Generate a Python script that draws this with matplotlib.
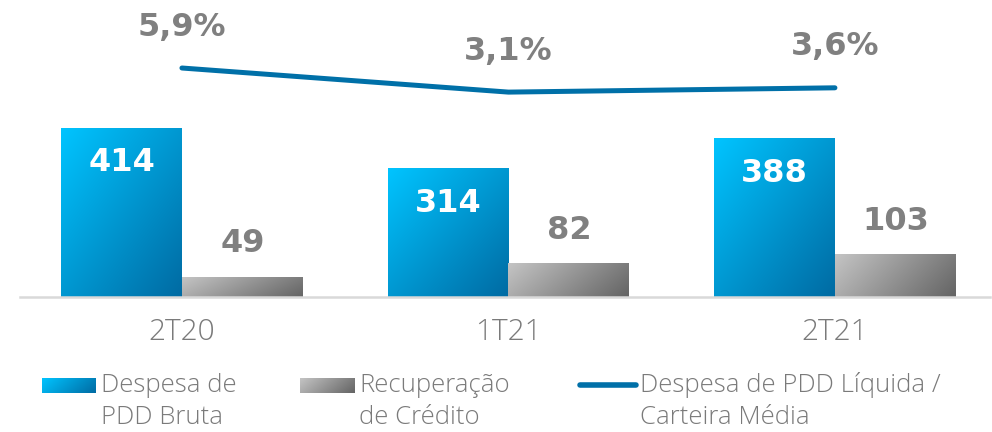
import numpy as np
import matplotlib
matplotlib.use('Agg')
import matplotlib.pyplot as plt
from matplotlib.colors import to_rgb

categories = ['2T20', '1T21', '2T21']
bruta = [414, 314, 388]
recup = [49, 82, 103]
ratio = [5.9, 3.1, 3.6]
ratio_labels = ['5,9%', '3,1%', '3,6%']
legend_labels = ['Despesa de\nPDD Bruta', 'Recuperação\nde Crédito',
                 'Despesa de PDD Líquida /\nCarteira Média']

W, H = 992, 432
BLUE_TL, BLUE_BR = to_rgb('#00C4FF'), to_rgb('#006BA3')
GRAY_TL, GRAY_BR = to_rgb('#C4C4C4'), to_rgb('#646464')
LINE_C = '#0070A8'
TXT_GRAY = '#808080'
CAT_GRAY = '#7A7A7A'
LIGHT_FONT = 'Open Sans'


def grad_img(c_tl, c_br, wx, wy, n=64):
    xx, yy = np.meshgrid(np.linspace(0, 1, n), np.linspace(0, 1, n))
    t = np.clip(wx * xx + wy * yy, 0, 1)  # yy=0 top (origin upper)
    a = np.array(c_tl)[None, None, :]
    b = np.array(c_br)[None, None, :]
    return a * (1 - t[..., None]) + b * t[..., None]


fig = plt.figure(figsize=(W / 100, H / 100), dpi=100)
ax = fig.add_axes([20 / W, (H - 297) / H, 970 / W, 297 / H])
ax2 = ax.twinx()

x = np.arange(len(categories))
bw = 0.37
bars1 = ax.bar(x - bw / 2, bruta, bw, color='none', edgecolor='none')
bars2 = ax.bar(x + bw / 2, recup, bw, color='none', edgecolor='none')

for bars, (ctl, cbr, wx, wy) in ((bars1, (BLUE_TL, BLUE_BR, 0.5, 0.5)),
                                 (bars2, (GRAY_TL, GRAY_BR, 0.75, 0.25))):
    for r in bars:
        x0, w, h = r.get_x(), r.get_width(), r.get_height()
        ax.imshow(grad_img(ctl, cbr, wx, wy), extent=[x0, x0 + w, 0, h], origin='upper',
                  aspect='auto', zorder=2, interpolation='bilinear')

ax.set_xlim(-0.496, 2.475)
ax.set_ylim(0, 728)

for xi, v in zip(x - bw / 2, bruta):
    ax.annotate(str(v), (xi, v), xytext=(0, -25), textcoords='offset points',
                ha='center', va='center', color='white', fontsize=23,
                fontweight='bold', zorder=5)
for xi, v in zip(x + bw / 2, recup):
    ax.annotate(str(v), (xi, v), xytext=(0, 24), textcoords='offset points',
                ha='center', va='center', color=TXT_GRAY, fontsize=23,
                fontweight='bold', zorder=5)

ax.set_xticks(x, categories)
ax.tick_params(axis='x', length=0, pad=15, labelsize=21.5, labelcolor=CAT_GRAY)
for t in ax.get_xticklabels():
    t.set_family(LIGHT_FONT)
    t.set_weight('light')
ax.set_yticks([])
for s in ['top', 'left', 'right']:
    ax.spines[s].set_visible(False)
ax.spines['bottom'].set_color('#D9D9D9')
ax.spines['bottom'].set_linewidth(1.8)

ax2.plot(x, ratio, color=LINE_C, lw=3.6, solid_capstyle='round', zorder=4)
ax2.set_ylim(-20.7, 13.8)
ax2.set_yticks([])
for s in ax2.spines.values():
    s.set_visible(False)
for xi, v, lab in zip(x, ratio, ratio_labels):
    ax2.annotate(lab, (xi, v), xytext=(0, 29.5), textcoords='offset points',
                 ha='center', va='center', color=TXT_GRAY, fontsize=23,
                 fontweight='bold')

# legend (manual)
def swatch(x0, x1, c_tl, c_br, wx, wy):
    a = fig.add_axes([x0 / W, (H - 393) / H, (x1 - x0) / W, 15 / H])
    a.imshow(grad_img(c_tl, c_br, wx, wy), aspect='auto', interpolation='bilinear')
    a.axis('off')

swatch(42, 96, BLUE_TL, BLUE_BR, 0.75, 0.25)
swatch(300, 355, GRAY_TL, GRAY_BR, 0.75, 0.25)
fig.add_artist(plt.Line2D([580 / W, 636 / W], [(H - 385) / H] * 2, color=LINE_C,
                          lw=4, solid_capstyle='round'))
for tx, lab in zip([101, 359, 640], legend_labels):
    l1, l2 = lab.split('\n')
    for yy, s in ((385, l1), (418, l2)):
        fig.text(tx / W, (H - yy) / H, s, ha='left', va='center', fontsize=18.5,
                 color=CAT_GRAY, family=LIGHT_FONT, weight='light')

fig.savefig('out.png', dpi=100)
